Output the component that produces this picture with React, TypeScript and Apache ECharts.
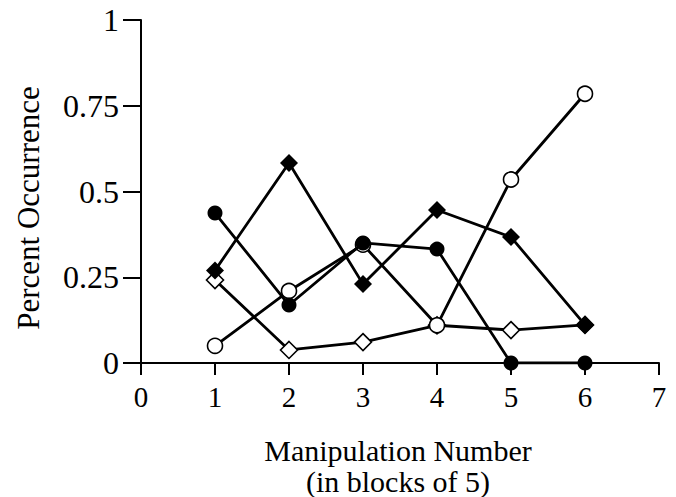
import React, { useEffect, useRef } from "react";
import * as echarts from "echarts";

const blocks = [1, 2, 3, 4, 5, 6];
const filledCircle = [0.437, 0.169, 0.35, 0.332, 0, 0];
const openCircle = [0.05, 0.21, 0.345, 0.11, 0.535, 0.785];
const filledDiamond = [0.27, 0.583, 0.23, 0.446, 0.367, 0.111];
const openDiamond = [0.242, 0.038, 0.061, 0.11, 0.096, 0.111];
const xTitle = "Manipulation Number";
const xSub = "(in blocks of 5)";
const yTitle = "Percent Occurrence";

const FONT = "Liberation Serif";

function pairs(v: number[]) {
  return blocks.map((x, i) => [x, v[i]]);
}

export default function App() {
  const ref = useRef<HTMLDivElement>(null);
  useEffect(() => {
    const chart = echarts.init(ref.current!, null, { renderer: "svg" });
    const mk = (
      name: string,
      vals: number[],
      symbol: string,
      size: number,
      filled: boolean,
      z: number
    ) => ({
      name,
      type: "line",
      data: pairs(vals),
      symbol,
      symbolSize: size,
      showAllSymbol: true,
      z,
      lineStyle: { color: "#000", width: 2.8 },
      itemStyle: {
        color: filled ? "#000" : "#fff",
        borderColor: "#000",
        borderWidth: filled ? 0 : 1.6,
      },
    });
    chart.setOption({
      animation: false,
      backgroundColor: "#fff",
      grid: { left: 141, right: 17, top: 20, bottom: 134, containLabel: false },
      xAxis: {
        type: "value",
        min: 0,
        max: 7,
        interval: 1,
        splitLine: { show: false },
        axisLine: { onZero: false, lineStyle: { color: "#000", width: 2 } },
        axisTick: { show: true, length: 12, lineStyle: { color: "#000", width: 2 } },
        axisLabel: { color: "#000", fontFamily: FONT, fontSize: 29, margin: 19 },
      },
      yAxis: {
        type: "value",
        min: 0,
        max: 1,
        interval: 0.25,
        splitLine: { show: false },
        axisLine: { onZero: false, lineStyle: { color: "#000", width: 2 } },
        axisTick: { show: true, length: 18, lineStyle: { color: "#000", width: 2 } },
        axisLabel: { color: "#000", fontFamily: FONT, fontSize: 32, margin: 22 },
      },
      graphic: [
        {
          type: "text",
          x: 398,
          y: 450,
          style: {
            text: xTitle,
            font: `30px "${FONT}"`,
            fill: "#000",
            align: "center",
            verticalAlign: "middle",
          },
        },
        {
          type: "text",
          x: 398,
          y: 481,
          style: {
            text: xSub,
            font: `30px "${FONT}"`,
            fill: "#000",
            align: "center",
            verticalAlign: "middle",
          },
        },
        {
          type: "text",
          x: 28,
          y: 208,
          rotation: Math.PI / 2,
          style: {
            text: yTitle,
            font: `31px "${FONT}"`,
            fill: "#000",
            align: "center",
            verticalAlign: "middle",
          },
        },
      ],
      series: [
        mk("Open diamond", openDiamond, "diamond", 17, false, 2),
        mk("Open circle", openCircle, "circle", 15, false, 3),
        mk("Filled diamond", filledDiamond, "diamond", 18, true, 4),
        mk("Filled circle", filledCircle, "circle", 15, true, 5),
      ],
    });
    return () => chart.dispose();
  }, []);
  return (
    <div
      ref={ref}
      style={{ position: "fixed", left: 0, top: 0, width: 676, height: 497 }}
    />
  );
}
